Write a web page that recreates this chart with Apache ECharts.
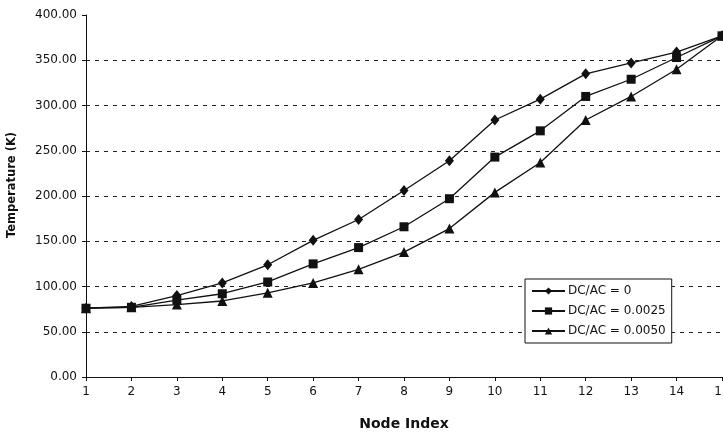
<!DOCTYPE html>
<html>
<head>
<meta charset="utf-8">
<script src="https://cdn.jsdelivr.net/npm/echarts@6/dist/echarts.min.js"></script>
<style>
  html, body { margin: 0; padding: 0; background: #fff; }
  #container { width: 723px; height: 436px; }
</style>
</head>
<body>
<div id="container"></div>
<script>
// node index along x
var nodes = ['1', '2', '3', '4', '5', '6', '7', '8', '9', '10', '11', '12', '13', '14', '15'];

// temperature (K) for each DC/AC ratio
var dcac0 = [76, 78, 90, 104, 124, 151, 174, 206, 239, 284, 307, 335, 347, 359, 377];
var dcac0025 = [76, 77, 85, 92, 105, 125, 143, 166, 197, 243, 272, 310, 329, 353, 377];
var dcac0050 = [76, 77, 80, 84, 93, 104, 119, 138, 164, 204, 237, 284, 310, 340, 377];

var seriesNames = ['DC/AC = 0', 'DC/AC = 0.0025', 'DC/AC = 0.0050'];

var ink = '#111';
var font = 'DejaVu Sans';

function lineSeries(name, data, symbol, size) {
    return {
        name: name,
        type: 'line',
        data: data,
        symbol: symbol,
        symbolSize: size,
        showAllSymbol: true,
        lineStyle: { color: ink, width: 1.3 },
        itemStyle: { color: ink },
        emphasis: { disabled: true },
        animation: false
    };
}

var myChart = echarts.init(document.getElementById('container'));

var option = {
    backgroundColor: '#fff',
    textStyle: { fontFamily: font, color: ink },
    grid: { left: 86, right: 1, top: 15, bottom: 59, outerBoundsMode: 'none', containLabel: false },
    legend: {
        data: seriesNames,
        orient: 'vertical',
        left: 525,
        top: 279,
        itemWidth: 33,
        itemHeight: 9,
        itemGap: 8,
        padding: [6, 6, 6, 6],
        borderColor: ink,
        borderWidth: 1,
        backgroundColor: '#fff',
        textStyle: { fontFamily: font, fontSize: 12, color: ink, padding: [0, 0, 0, -2] }
    },
    xAxis: {
        type: 'category',
        data: nodes,
        boundaryGap: false,
        name: 'Node Index',
        nameLocation: 'middle',
        nameGap: 40,
        nameTextStyle: { fontFamily: font, fontSize: 14, fontWeight: 'bold', color: ink },
        axisLine: { lineStyle: { color: ink, width: 1 } },
        axisTick: { alignWithLabel: true, length: 4, lineStyle: { color: ink } },
        axisLabel: { fontFamily: font, fontSize: 12, color: ink, margin: 9 },
        splitLine: { show: false }
    },
    yAxis: {
        type: 'value',
        min: 0,
        max: 400,
        interval: 50,
        name: 'Temperature (K)',
        nameLocation: 'middle',
        nameGap: 68,
        nameTextStyle: { fontFamily: font, fontSize: 11.5, fontWeight: 'bold', color: ink, padding: [0, 0, 0, 22] },
        axisLine: { show: true, lineStyle: { color: ink, width: 1 } },
        axisTick: { show: true, length: 4, lineStyle: { color: ink } },
        axisLabel: {
            fontFamily: font, fontSize: 12, color: ink, margin: 9,
            formatter: function (v) { return v.toFixed(2); }
        },
        splitLine: { show: true, showMinLine: false, showMaxLine: false, lineStyle: { color: '#222', type: [4, 5], width: 1 } }
    },
    series: [
        lineSeries(seriesNames[0], dcac0, 'diamond', [9, 11]),
        lineSeries(seriesNames[1], dcac0025, 'rect', 9),
        lineSeries(seriesNames[2], dcac0050, 'triangle', 10)
    ]
};

myChart.setOption(option);
</script>
</body>
</html>
